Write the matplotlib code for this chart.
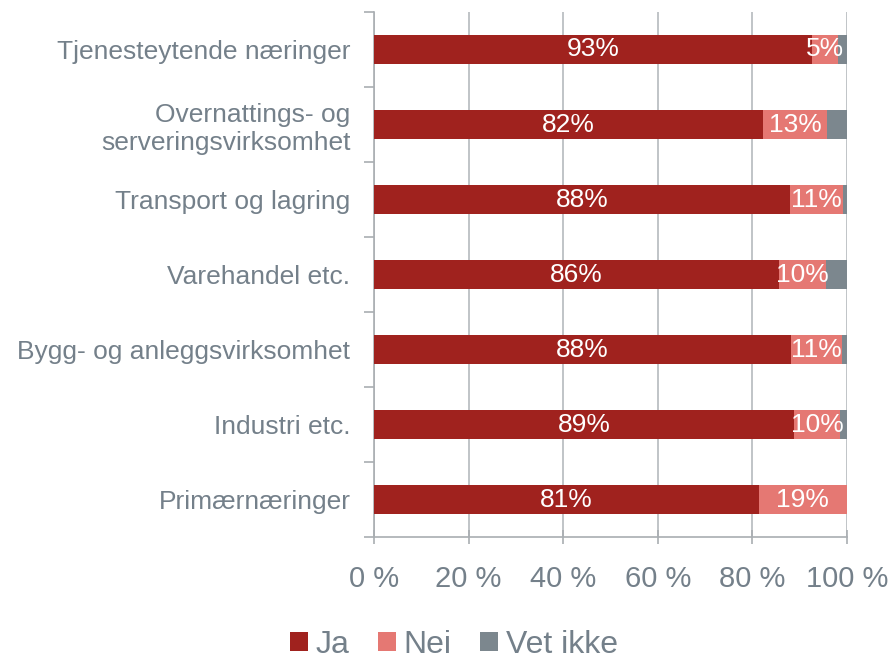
import matplotlib.pyplot as plt
import numpy as np
from matplotlib.ticker import FixedLocator

plt.rcParams['font.family'] = ['Liberation Sans', 'DejaVu Sans']

# Data (top to bottom as in the chart)
categories = ["Tjenesteytende næringer",
              "Overnattings- og\nserveringsvirksomhet",
              "Transport og lagring",
              "Varehandel etc.",
              "Bygg- og anleggsvirksomhet",
              "Industri etc.",
              "Primærnæringer"]
ja = [92.7, 82.3, 88.0, 85.6, 88.2, 88.8, 81.3]
nei = [5.4, 13.4, 11.2, 9.9, 10.7, 9.8, 18.7]
vet_ikke = [1.9, 4.3, 0.8, 4.5, 1.1, 1.4, 0.0]
series_names = ["Ja", "Nei", "Vet ikke"]
xtick_labels = ["0 %", "20 %", "40 %", "60 %", "80 %", "100 %"]

colors = ["#A0221E", "#E57873", "#7C878E"]
text_grey = "#74808A"
line_grey = "#A9AEB2"

fig = plt.figure(figsize=(8.88, 6.61), dpi=100)
ax = fig.add_axes([374/888, 1-537/661, 473/888, 525/661])

y = np.arange(len(categories))[::-1]
left = np.zeros(len(categories))
for name, vals, c in zip(series_names, [ja, nei, vet_ikke], colors):
    vals = np.array(vals)
    ax.barh(y, vals, left=left, height=0.39, color=c, label=name, zorder=3)
    if name != "Vet ikke":
        for yi, l, v in zip(y, left, vals):
            if v >= 3:
                ax.text(l + v / 2, yi, f"{round(v):.0f}%", ha="center", va="center",
                        color="white", fontsize=19, zorder=4)
    left += vals

ax.set_xlim(0, 100)
ax.set_ylim(-0.5, len(categories) - 0.5)

ax.set_xticks(np.arange(0, 101, 20))
ax.set_xticklabels(xtick_labels, color=text_grey, fontsize=21)
ax.tick_params(axis="x", direction="inout", length=10, width=1.2, color=line_grey, pad=15)

ax.set_yticks(y)
ax.set_yticklabels(categories, color=text_grey, fontsize=19, ha="right")
ax.tick_params(axis="y", which="major", length=0, pad=17)
ax.yaxis.set_minor_locator(FixedLocator(np.arange(-0.5, len(categories), 1.0)))
ax.tick_params(axis="y", which="minor", length=7, width=1.2, color=line_grey)

ax.grid(axis="x", color="#B5BABE", linewidth=1.2, zorder=0)
for s in ["top", "right"]:
    ax.spines[s].set_visible(False)
for s in ["left", "bottom"]:
    ax.spines[s].set_color(line_grey)
    ax.spines[s].set_linewidth(1.2)

leg = fig.legend(loc="center", bbox_to_anchor=(454/888, 1-645/661), ncol=3, frameon=False,
                 fontsize=23, handlelength=0.55, handleheight=0.55, handletextpad=0.25,
                 columnspacing=0.9, borderpad=0.2)
for t in leg.get_texts():
    t.set_color(text_grey)

fig.savefig("out.png", dpi=100)
